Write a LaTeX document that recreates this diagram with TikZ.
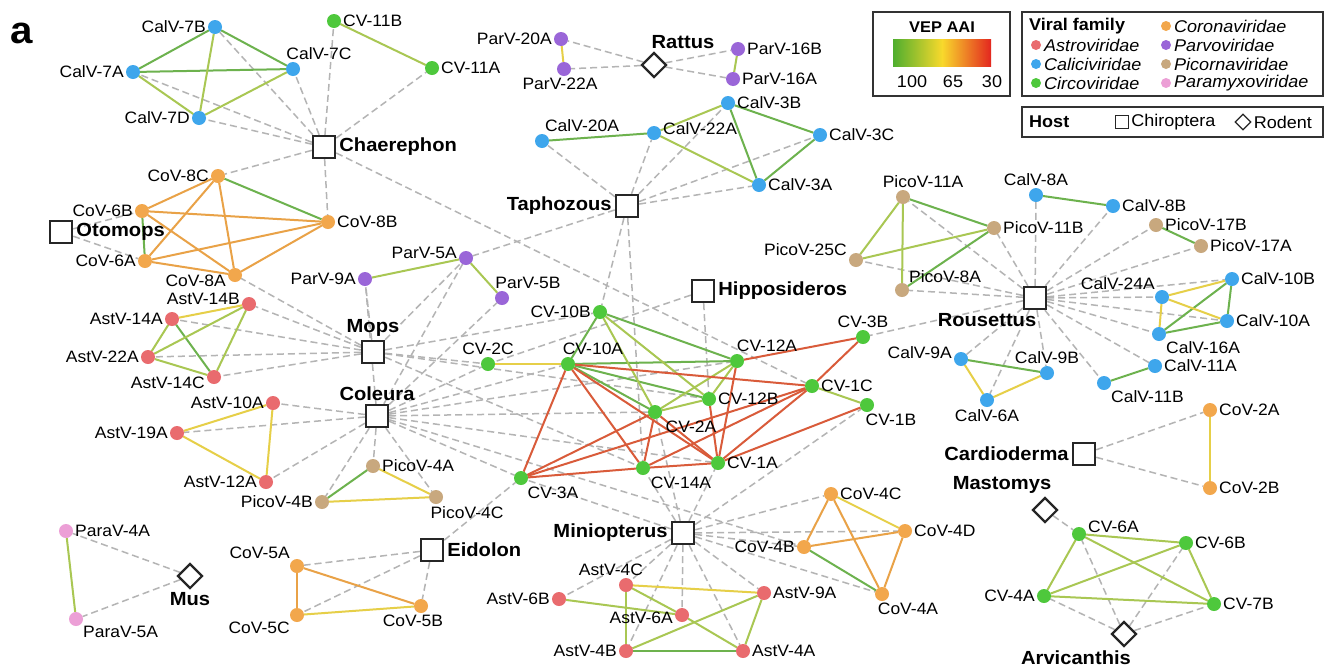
\documentclass[tikz,border=0pt]{standalone}
\usepackage{fontspec}
\setmainfont{Liberation Sans}[FakeStretch=1.06]
\usepackage{tikz}
\usetikzlibrary{shapes.geometric, backgrounds, positioning}
\definecolor{Astcolor}{HTML}{E96B6E}
\definecolor{Calcolor}{HTML}{3EA6EC}
\definecolor{Circolor}{HTML}{4EC83C}
\definecolor{Corcolor}{HTML}{F2A74C}
\definecolor{Parcolor}{HTML}{9A66D8}
\definecolor{Piccolor}{HTML}{C8A87E}
\definecolor{Pmxcolor}{HTML}{EC9FD6}
\definecolor{AAIa}{HTML}{6DB24E}
\definecolor{AAIb}{HTML}{A9C753}
\definecolor{AAIc}{HTML}{E6CF48}
\definecolor{AAId}{HTML}{E9A247}
\definecolor{AAIe}{HTML}{D95B3A}
\definecolor{barG}{HTML}{4FAE2E}
\definecolor{barY}{HTML}{F8D92C}
\definecolor{barR}{HTML}{E3261F}
\definecolor{Hostline}{HTML}{B4B4B4}

\begin{document}
\begin{tikzpicture}[x=1pt, y=-1pt]
    \tikzset{%
        vir/.style={circle, fill=#1, minimum size=14pt, inner sep=0pt, outer sep=0pt},
        every label/.style={font=\fontsize{16.5}{18}\selectfont, inner sep=2pt},
        hlab/.style={font=\fontsize{19}{21}\selectfont\bfseries, inner sep=3pt},
        bat/.style={draw=black!85, line width=2.4pt, fill=white, minimum size=22pt, inner sep=0pt},
        rodent/.style={diamond, aspect=1, draw=black!85, line width=2.2pt, fill=white, minimum width=25pt, minimum height=25pt, inner sep=0pt},
        aaiA/.style={AAIa, line width=2pt},
        aaiB/.style={AAIb, line width=2pt},
        aaiC/.style={AAIc, line width=2pt},
        aaiD/.style={AAId, line width=2pt},
        aaiE/.style={AAIe, line width=2pt},
        hostlink/.style={Hostline, line width=1.5pt, dash pattern=on 7pt off 4pt},
        legtext/.style={anchor=west, font=\fontsize{17}{19}\selectfont\itshape, inner sep=1pt}
    }
    \useasboundingbox (0,0) rectangle (1332,670);

    \node[font=\fontsize{38}{40}\selectfont\bfseries] (panel) at (22,33) {a};

    % hosts: Chiroptera
    \node[bat, label={[hlab]right:Chaerephon}] (chaerephon) at (324,147) {};
    \node[bat, label={[hlab]right:Otomops}] (otomops) at (61,232) {};
    \node[bat, label={[hlab]above:Mops}] (mops) at (373,352) {};
    \node[bat, label={[hlab]above:Coleura}] (coleura) at (377,416) {};
    \node[bat, label={[hlab]left:Taphozous}] (taphozous) at (627,206) {};
    \node[bat, label={[hlab]right:Hipposideros}] (hipposideros) at (703,291) {};
    \node[bat, label={[hlab, xshift=-48pt]below:Rousettus}] (rousettus) at (1035,298) {};
    \node[bat, label={[hlab]left:Cardioderma}] (cardioderma) at (1084,454) {};
    \node[bat, label={[hlab]left:Miniopterus}] (miniopterus) at (683,533) {};
    \node[bat, label={[hlab]right:Eidolon}] (eidolon) at (432,550) {};
    % hosts: Rodent
    \node[rodent, label={[hlab, xshift=29pt]above:Rattus}] (rattus) at (654,65) {};
    \node[rodent, label={[hlab]below:Mus}] (mus) at (190,576) {};
    \node[rodent, label={[hlab, xshift=-43pt]above:Mastomys}] (mastomys) at (1045,510) {};
    \node[rodent, label={[hlab, xshift=-48pt]below:Arvicanthis}] (arvicanthis) at (1124,634) {};

    % Caliciviridae
    \node[vir=Calcolor, label=left:CalV-7B] (calv7b) at (215,27) {};
    \node[vir=Calcolor, label=left:CalV-7A] (calv7a) at (133,72) {};
    \node[vir=Calcolor, label={[xshift=26pt]above:CalV-7C}] (calv7c) at (293,69) {};
    \node[vir=Calcolor, label=left:CalV-7D] (calv7d) at (199,118) {};
    \node[vir=Calcolor, label={[xshift=40pt]above:CalV-20A}] (calv20a) at (542,141) {};
    \node[vir=Calcolor, label={[yshift=4pt]right:CalV-22A}] (calv22a) at (654,133) {};
    \node[vir=Calcolor, label=right:CalV-3B] (calv3b) at (728,103) {};
    \node[vir=Calcolor, label=right:CalV-3C] (calv3c) at (820,135) {};
    \node[vir=Calcolor, label=right:CalV-3A] (calv3a) at (759,185) {};
    \node[vir=Calcolor, label=above:CalV-8A] (calv8a) at (1036,195) {};
    \node[vir=Calcolor, label=right:CalV-8B] (calv8b) at (1113,206) {};
    \node[vir=Calcolor, label=above left:CalV-24A] (calv24a) at (1162,297) {};
    \node[vir=Calcolor, label=right:CalV-10B] (calv10b) at (1232,279) {};
    \node[vir=Calcolor, label=right:CalV-10A] (calv10a) at (1227,321) {};
    \node[vir=Calcolor, label=below right:CalV-16A] (calv16a) at (1159,334) {};
    \node[vir=Calcolor, label=right:CalV-11A] (calv11a) at (1155,366) {};
    \node[vir=Calcolor, label=below right:CalV-11B] (calv11b) at (1104,383) {};
    \node[vir=Calcolor, label={[yshift=6pt]left:CalV-9A}] (calv9a) at (961,359) {};
    \node[vir=Calcolor, label=above:CalV-9B] (calv9b) at (1047,373) {};
    \node[vir=Calcolor, label=below:CalV-6A] (calv6a) at (987,400) {};

    % Circoviridae
    \node[vir=Circolor, label=right:CV-11B] (cv11b) at (334,21) {};
    \node[vir=Circolor, label=right:CV-11A] (cv11a) at (432,68) {};
    \node[vir=Circolor, label=left:CV-10B] (cv10b) at (600,312) {};
    \node[vir=Circolor, label=above:CV-2C] (cv2c) at (488,364) {};
    \node[vir=Circolor, label={[xshift=25pt]above:CV-10A}] (cv10a) at (568,364) {};
    \node[vir=Circolor, label={[xshift=30pt]above:CV-12A}] (cv12a) at (737,361) {};
    \node[vir=Circolor, label=above:CV-3B] (cv3b) at (863,337) {};
    \node[vir=Circolor, label=right:CV-1C] (cv1c) at (812,386) {};
    \node[vir=Circolor, label=right:CV-12B] (cv12b) at (709,399) {};
    \node[vir=Circolor, label={[xshift=24pt]below:CV-1B}] (cv1b) at (867,405) {};
    \node[vir=Circolor, label={[xshift=36pt]below:CV-2A}] (cv2a) at (655,412) {};
    \node[vir=Circolor, label={[xshift=38pt]below:CV-14A}] (cv14a) at (643,468) {};
    \node[vir=Circolor, label=right:CV-1A] (cv1a) at (718,463) {};
    \node[vir=Circolor, label={[xshift=32pt]below:CV-3A}] (cv3a) at (521,478) {};
    \node[vir=Circolor, label={[yshift=7pt]right:CV-6A}] (cv6a) at (1079,534) {};
    \node[vir=Circolor, label=right:CV-6B] (cv6b) at (1186,543) {};
    \node[vir=Circolor, label=left:CV-4A] (cv4a) at (1044,596) {};
    \node[vir=Circolor, label=right:CV-7B] (cv7b) at (1214,604) {};

    % Coronaviridae
    \node[vir=Corcolor, label=left:CoV-8C] (cov8c) at (218,176) {};
    \node[vir=Corcolor, label=left:CoV-6B] (cov6b) at (142,211) {};
    \node[vir=Corcolor, label=right:CoV-8B] (cov8b) at (328,222) {};
    \node[vir=Corcolor, label=left:CoV-6A] (cov6a) at (145,261) {};
    \node[vir=Corcolor, label={[yshift=-6pt]left:CoV-8A}] (cov8a) at (235,275) {};
    \node[vir=Corcolor, label=above left:CoV-5A] (cov5a) at (297,566) {};
    \node[vir=Corcolor, label=below left:CoV-5C] (cov5c) at (297,615) {};
    \node[vir=Corcolor, label={[xshift=-8pt]below:CoV-5B}] (cov5b) at (421,606) {};
    \node[vir=Corcolor, label=right:CoV-4C] (cov4c) at (831,494) {};
    \node[vir=Corcolor, label=right:CoV-4D] (cov4d) at (905,531) {};
    \node[vir=Corcolor, label=left:CoV-4B] (cov4b) at (804,547) {};
    \node[vir=Corcolor, label={[xshift=26pt]below:CoV-4A}] (cov4a) at (882,594) {};
    \node[vir=Corcolor, label=right:CoV-2A] (cov2a) at (1210,410) {};
    \node[vir=Corcolor, label=right:CoV-2B] (cov2b) at (1210,488) {};

    % Astroviridae
    \node[vir=Astcolor, label={[yshift=5pt]left:AstV-14B}] (astv14b) at (249,304) {};
    \node[vir=Astcolor, label=left:AstV-14A] (astv14a) at (172,319) {};
    \node[vir=Astcolor, label=left:AstV-22A] (astv22a) at (148,357) {};
    \node[vir=Astcolor, label={[yshift=-6pt]left:AstV-14C}] (astv14c) at (214,377) {};
    \node[vir=Astcolor, label=left:AstV-10A] (astv10a) at (273,403) {};
    \node[vir=Astcolor, label=left:AstV-19A] (astv19a) at (177,433) {};
    \node[vir=Astcolor, label=left:AstV-12A] (astv12a) at (266,482) {};
    \node[vir=Astcolor, label={[xshift=-15pt]above:AstV-4C}] (astv4c) at (626,585) {};
    \node[vir=Astcolor, label=left:AstV-6B] (astv6b) at (559,599) {};
    \node[vir=Astcolor, label={[yshift=-3pt]left:AstV-6A}] (astv6a) at (682,615) {};
    \node[vir=Astcolor, label=right:AstV-9A] (astv9a) at (764,593) {};
    \node[vir=Astcolor, label=left:AstV-4B] (astv4b) at (626,651) {};
    \node[vir=Astcolor, label=right:AstV-4A] (astv4a) at (743,651) {};

    % Parvoviridae
    \node[vir=Parcolor, label=left:ParV-20A] (parv20a) at (561,39) {};
    \node[vir=Parcolor, label={[xshift=-4pt]below:ParV-22A}] (parv22a) at (564,69) {};
    \node[vir=Parcolor, label=right:ParV-16B] (parv16b) at (738,49) {};
    \node[vir=Parcolor, label=right:ParV-16A] (parv16a) at (733,79) {};
    \node[vir=Parcolor, label={[yshift=5pt]left:ParV-5A}] (parv5a) at (466,258) {};
    \node[vir=Parcolor, label=left:ParV-9A] (parv9a) at (365,279) {};
    \node[vir=Parcolor, label={[xshift=26pt]above:ParV-5B}] (parv5b) at (502,298) {};

    % Picornaviridae
    \node[vir=Piccolor, label={[xshift=20pt]above:PicoV-11A}] (picov11a) at (903,197) {};
    \node[vir=Piccolor, label=right:PicoV-11B] (picov11b) at (994,228) {};
    \node[vir=Piccolor, label={[yshift=10pt]left:PicoV-25C}] (picov25c) at (856,260) {};
    \node[vir=Piccolor, label=above right:PicoV-8A] (picov8a) at (902,290) {};
    \node[vir=Piccolor, label=right:PicoV-17B] (picov17b) at (1156,225) {};
    \node[vir=Piccolor, label=right:PicoV-17A] (picov17a) at (1201,246) {};
    \node[vir=Piccolor, label=right:PicoV-4A] (picov4a) at (373,466) {};
    \node[vir=Piccolor, label=left:PicoV-4B] (picov4b) at (322,502) {};
    \node[vir=Piccolor, label={[xshift=31pt]below:PicoV-4C}] (picov4c) at (436,497) {};

    % Paramyxoviridae
    \node[vir=Pmxcolor, label=right:ParaV-4A] (parav4a) at (66,531) {};
    \node[vir=Pmxcolor, label=below right:ParaV-5A] (parav5a) at (76,619) {};

    \begin{scope}[on background layer]
        \fill[white] (0,0) rectangle (1332,670);
        % virus - host
        \foreach \v in {calv7b, calv7a, calv7c, calv7d, cv11b, cv11a, cov8c, cov8b, cv1c}
            \draw[hostlink] (chaerephon) -- (\v);
        \foreach \v in {cov6b, cov6a}
            \draw[hostlink] (otomops) -- (\v);
        \foreach \v in {cov8a, astv14b, astv14a, astv22a, astv14c, parv9a, parv5a, cv2c, cv10b, cv12b, cv14a}
            \draw[hostlink] (mops) -- (\v);
        \foreach \v in {parv9a, parv5a, parv5b, astv10a, astv19a, astv12a, picov4a, picov4b, picov4c, cv2c, cv10a, cv12a, cv2a, cv1a, cv3a, cov4b}
            \draw[hostlink] (coleura) -- (\v);
        \foreach \v in {calv20a, calv22a, calv3b, calv3c, calv3a, parv5a, cv10b, cv14a}
            \draw[hostlink] (taphozous) -- (\v);
        \foreach \v in {cv2c, cv12b}
            \draw[hostlink] (hipposideros) -- (\v);
        \foreach \v in {parv20a, parv22a, parv16b, parv16a}
            \draw[hostlink] (rattus) -- (\v);
        \foreach \v in {picov11a, picov11b, picov25c, picov8a, calv8a, calv8b, picov17b, picov17a, calv24a, calv10b, calv10a, calv16a, calv11a, calv11b, calv9a, calv9b, calv6a, cv3b}
            \draw[hostlink] (rousettus) -- (\v);
        \foreach \v in {cov2a, cov2b}
            \draw[hostlink] (cardioderma) -- (\v);
        \foreach \v in {cv3a, cv14a, cv1a, cv1b, cv2a, cov4c, cov4d, cov4b, cov4a, astv4c, astv6b, astv6a, astv4b, astv4a, astv9a}
            \draw[hostlink] (miniopterus) -- (\v);
        \foreach \v in {cov5a, cov5c, cov5b, cv3a}
            \draw[hostlink] (eidolon) -- (\v);
        \foreach \v in {parav4a, parav5a}
            \draw[hostlink] (mus) -- (\v);
        \draw[hostlink] (mastomys) -- (cv6a);
        \foreach \v in {cv6a, cv6b, cv4a, cv7b}
            \draw[hostlink] (arvicanthis) -- (\v);

        % virus - virus, coloured by VEP AAI
        \foreach \a/\b in {calv7b/calv7a, calv7b/calv7c, calv7a/calv7c, cov8c/cov8b, cov6b/cov6a, astv14a/astv14c, picov4a/picov4b, calv20a/calv22a, calv3b/calv3c, calv3b/calv3a, calv3c/calv3a, picov11a/picov11b, picov8a/picov11b, calv8a/calv8b, picov17b/picov17a, calv16a/calv10b, calv16a/calv10a, calv10b/calv10a, calv11a/calv11b, calv9a/calv9b, cov4b/cov4a, astv4b/astv4a, cv10b/cv10a, cv10b/cv12a, cv10a/cv12a, cv10a/cv12b, cv10a/cv2a}
            \draw[aaiA] (\a) -- (\b);
        \foreach \a/\b in {calv7b/calv7d, calv7a/calv7d, calv7d/calv7c, cv11b/cv11a, astv14b/astv22a, astv14b/astv14c, astv14a/astv22a, astv22a/astv14c, parv9a/parv5a, parv5a/parv5b, parv16b/parv16a, parav4a/parav5a, calv22a/calv3b, calv22a/calv3a, picov11a/picov25c, picov11a/picov8a, picov25c/picov11b, cv6a/cv6b, cv6a/cv4a, cv6a/cv7b, cv6b/cv4a, cv6b/cv7b, cv4a/cv7b, astv4c/astv4b, astv4c/astv6a, astv6b/astv6a, astv9a/astv4b, astv9a/astv4a, astv6a/astv4a, cv10b/cv12b, cv10b/cv2a, cv12a/cv2a, cv12a/cv12b, cv2a/cv12b, cv1c/cv1b}
            \draw[aaiB] (\a) -- (\b);
        \foreach \a/\b in {astv14b/astv14a, astv10a/astv19a, astv10a/astv12a, astv19a/astv12a, parv20a/parv22a, picov4a/picov4c, picov4b/picov4c, cov5c/cov5b, calv24a/calv10b, calv24a/calv10a, calv24a/calv16a, calv9a/calv6a, calv9b/calv6a, cov2a/cov2b, cov4c/cov4d, astv4c/astv9a, cv2c/cv10a}
            \draw[aaiC] (\a) -- (\b);
        \foreach \a/\b in {cov8c/cov6b, cov8c/cov6a, cov8c/cov8a, cov6b/cov8b, cov6b/cov8a, cov6a/cov8b, cov6a/cov8a, cov8a/cov8b, cov5a/cov5c, cov5a/cov5b, cov4c/cov4b, cov4c/cov4a, cov4b/cov4d, cov4d/cov4a}
            \draw[aaiD] (\a) -- (\b);
        \foreach \a/\b in {cv10a/cv1c, cv10a/cv14a, cv10a/cv1a, cv10a/cv3a, cv12a/cv3b, cv12a/cv1a, cv12b/cv1a, cv3b/cv1c, cv1c/cv1a, cv1c/cv14a, cv1c/cv3a, cv1b/cv1a, cv3a/cv2a, cv3a/cv14a, cv14a/cv1a, cv2a/cv14a, cv2a/cv1a}
            \draw[aaiE] (\a) -- (\b);
    \end{scope}

    % legend: VEP AAI
    \draw[line width=1.2pt, black!80] (873,12) rectangle (1010,96);
    \node[font=\fontsize{15.5}{17}\selectfont\bfseries] (veptitle) at (942,27) {VEP AAI};
    \shade[left color=barG, right color=barY] (893,39) rectangle (942,66);
    \shade[left color=barY, right color=barR] (942,39) rectangle (991,66);
    \node[font=\fontsize{17}{19}\selectfont] (vep100) at (912,82) {100};
    \node[font=\fontsize{17}{19}\selectfont] (vep65) at (953,82) {65};
    \node[font=\fontsize{17}{19}\selectfont] (vep30) at (992,82) {30};

    % legend: viral family
    \draw[line width=1.2pt, black!80] (1022,12) rectangle (1323,96);
    \node[anchor=west, font=\fontsize{17}{19}\selectfont\bfseries, inner sep=1pt] (famtitle) at (1028,26) {Viral family};
    \foreach \col/\fam/\ypos in {Astcolor/Astroviridae/45, Calcolor/Caliciviridae/64, Circolor/Circoviridae/83} {
        \fill[\col] (1036,\ypos) circle (5);
        \node[legtext] (lg\fam) at (1043,\ypos) {\fam};
    }
    \foreach \col/\fam/\ypos in {Corcolor/Coronaviridae/26, Parcolor/Parvoviridae/45, Piccolor/Picornaviridae/64, Pmxcolor/Paramyxoviridae/83} {
        \fill[\col] (1166,\ypos) circle (5);
        \node[legtext] (lg\fam) at (1173,\ypos) {\fam};
    }

    % legend: host
    \draw[line width=1.2pt, black!80] (1022,107) rectangle (1323,137);
    \node[anchor=west, font=\fontsize{17}{19}\selectfont\bfseries, inner sep=1pt] (hosttitle) at (1028,122) {Host};
    \node[draw=black!85, line width=1.3pt, minimum size=13pt, inner sep=0pt] (lgbat) at (1122,122) {};
    \node[legtext, font=\fontsize{17}{19}\selectfont, right=1pt of lgbat] (lgchiro) {Chiroptera};
    \node[diamond, aspect=1, draw=black!85, line width=1.3pt, minimum width=16pt, minimum height=16pt, inner sep=0pt] (lgrod) at (1243,122) {};
    \node[legtext, font=\fontsize{17}{19}\selectfont, right=1pt of lgrod] (lgrodent) {Rodent};
\end{tikzpicture}
\end{document}
